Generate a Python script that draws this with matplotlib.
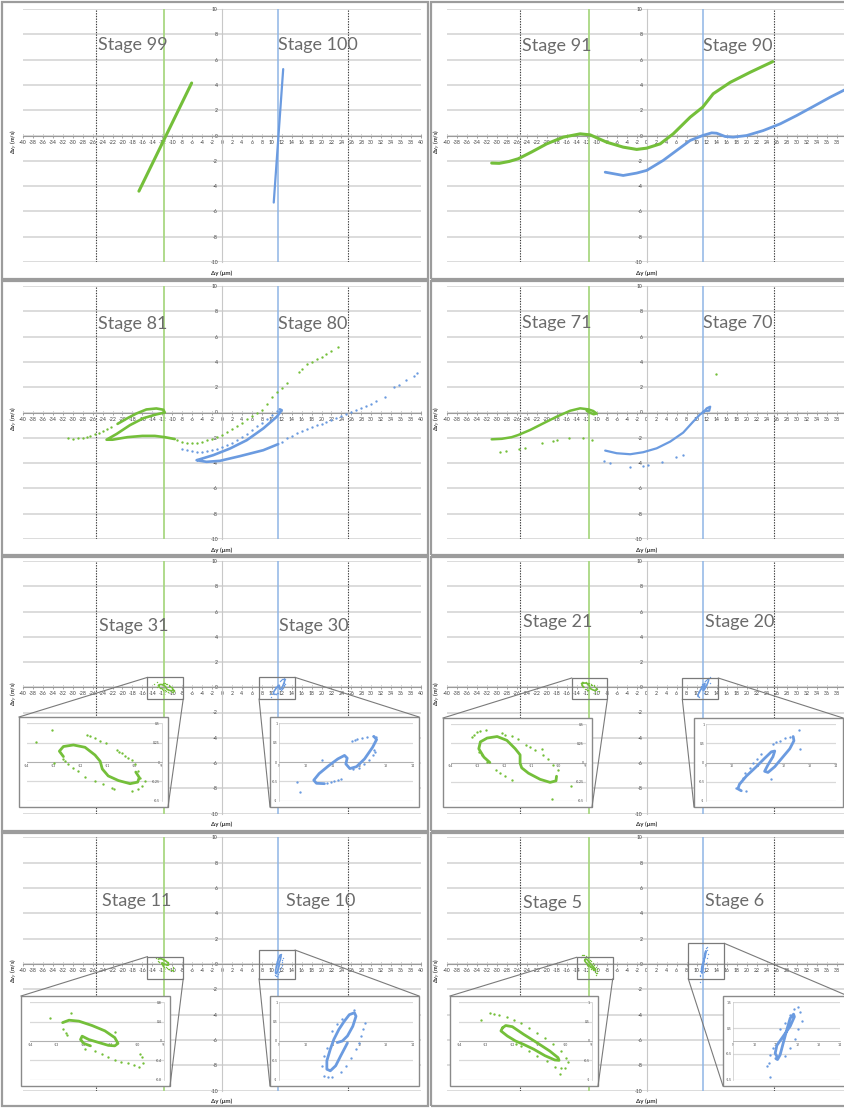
import matplotlib
matplotlib.use('Agg')
import matplotlib.pyplot as plt
from matplotlib.patches import Rectangle
from matplotlib.lines import Line2D

plt.rcParams['font.family'] = ['Lato', 'DejaVu Sans']

W, H = 844, 1108
GREEN = '#74bf3a'
BLUE = '#6b9be0'

# ---------------- data ----------------
x_ticks = list(range(-40, 41, 2))
y_ticks = list(range(-10, 11, 2))

# Stage 99 / 100
s99_line = [(-16.7, -4.4), (-6.1, 4.15)]
s100_line = [(10.4, -5.3), (12.3, 5.25)]

# Stage 91 / 90
s91_line = [(-31, -2.18), (-29.5, -2.2), (-27.5, -2.05), (-25.7, -1.84), (-23, -1.3), (-20, -0.66),
            (-16.7, -0.13), (-13.3, 0.13), (-11.3, 0.05), (-8, -0.53), (-4.7, -0.92), (-2, -1.1),
            (0, -1.0), (2.7, -0.66), (5.3, 0.13), (8.7, 1.45), (11.2, 2.24), (13.3, 3.3), (16.7, 4.2),
            (20.7, 5.0), (25.2, 5.84)]
s90_line = [(-8.3, -2.9), (-4.7, -3.16), (-2, -2.97), (0, -2.76), (3.3, -1.97), (6, -1.18), (8.7, -0.39),
            (11.2, 0), (13, 0.21), (14, 0.18), (15.7, -0.08), (17.3, -0.13), (20, 0), (23.3, 0.39),
            (26.7, 0.92), (30, 1.58), (33.3, 2.29), (36.7, 3.03), (39.3, 3.55), (41, 3.9)]

# Stage 81 / 80
s81_line = [(-21.0, -0.9), (-19, -0.45), (-17.2, -0.08), (-15.2, 0.24), (-13.2, 0.32), (-11.8, 0.22),
            (-11.5, 0.0), (-13.2, -0.15), (-15.8, -0.45), (-18.5, -1.0), (-21.2, -1.7), (-23.2, -2.15),
            (-22, -2.15), (-19, -1.95), (-16, -1.85), (-13.5, -1.85), (-11.5, -1.95), (-9.5, -2.1)]
s81_dots = [(-30.9, -2.05), (-30, -2.06), (-29, -2.05), (-28, -2.0), (-27.2, -1.9), (-26.5, -1.82),
            (-25.6, -1.72), (-24.8, -1.6), (-24, -1.48), (-23.2, -1.3), (-22.4, -1.15),
            (-9, -2.2), (-8, -2.3), (-7, -2.4), (-6, -2.45), (-5, -2.45), (-4, -2.35), (-3, -2.2),
            (-2, -2.1), (-1, -1.9), (0, -1.8), (1, -1.55), (2, -1.3), (3, -1.1), (4, -0.85), (5, -0.55),
            (6, -0.3), (7, 0.0), (8, 0.2), (9, 0.7), (10, 1.2), (11, 1.6), (12, 1.95), (13, 2.3),
            (15.5, 3.2), (16, 3.4), (17, 3.8), (18, 4.0), (19, 4.2), (20, 4.4), (21, 4.6), (22, 4.85),
            (23.4, 5.2)]
s80_line = [(11.3, -2.5), (8.3, -2.98), (3.6, -3.45), (-0.4, -3.82), (-3.1, -3.9), (-5.1, -3.77),
            (-4.4, -3.69), (-1.74, -3.37), (1.6, -2.85), (4.97, -2.19), (8.3, -1.26), (11.0, -0.34),
            (12.0, 0.18), (11.6, 0.25)]
s80_dots = [(-8.1, -2.85), (-7, -2.95), (-6, -3.05), (-5, -3.1), (-4, -3.1), (-3, -3.05), (-2, -2.95),
            (-1, -2.85), (0, -2.75), (1, -2.6), (2, -2.4), (3, -2.2), (4, -1.95), (5, -1.7), (6, -1.4),
            (7, -1.1), (8, -0.8), (9, -0.5), (10, -0.2), (11, 0.1),
            (12, -2.3), (13, -2.05), (14, -1.85), (15, -1.65), (16, -1.45), (17, -1.3), (18, -1.15),
            (19, -1.0), (20, -0.9), (21, -0.75), (22, -0.6), (23, -0.45), (24, -0.3), (25, -0.15),
            (26, 0.05), (27, 0.2), (28, 0.35), (29, 0.55), (30, 0.7), (31, 0.9), (32.7, 1.25),
            (34.5, 2.0), (35.5, 2.2), (37, 2.6), (38.5, 2.9), (39.2, 3.1)]

# Stage 71 / 70
s71_line = [(-31, -2.12), (-29, -2.08), (-27, -1.95), (-25.7, -1.78), (-23.3, -1.38), (-20.7, -0.86),
            (-18, -0.33), (-15.3, 0.14), (-13.3, 0.33), (-11.7, 0.25), (-10.7, 0.12), (-10, -0.08),
            (-10.6, -0.14), (-11.5, 0.0), (-12, 0.14)]
s71_dots = [(-29.3, -3.09), (-28.1, -3.04), (-25.5, -2.88), (-24.3, -2.83), (-21, -2.43), (-18.8, -2.25),
            (-18, -2.17), (-15.5, -2.04), (-12.7, -2.04), (-10.9, -2.17), (13.8, 3.01)]
s70_line = [(-8.3, -3.01), (-6, -3.22), (-3.3, -3.3), (-0.7, -3.14), (2, -2.83), (4.7, -2.3), (7.3, -1.59),
            (9.3, -0.72), (10.7, -0.14), (11.3, 0.0), (12, 0.33), (12.7, 0.46), (12.5, 0.14), (11.7, 0.12),
            (11.2, 0.05)]
s70_dots = [(-8.5, -3.83), (-7.3, -4.01), (-3.3, -4.28), (-0.7, -4.2), (0.3, -4.14), (3.1, -3.88),
            (5.8, -3.49), (7.2, -3.36)]

# Stage 31 / 30
s31_line = [(-12.64, 0.07), (-12.79, 0.14), (-12.64, 0.20), (-12.27, 0.22), (-11.84, 0.19), (-11.47, 0.09),
            (-11.28, 0.01), (-11.2, -0.09), (-10.98, -0.18), (-10.6, -0.24), (-10.17, -0.28), (-9.89, -0.26),
            (-9.83, -0.2), (-9.96, -0.13)]
s31_dots = [(-13.67, 0.26), (-13.07, 0.41), (-12.98, -0.01), (-12.64, 0.04), (-12.58, 0.01), (-12.46, -0.03),
            (-12.27, -0.08), (-12.09, -0.12), (-11.84, -0.19), (-11.47, -0.25), (-11.16, -0.29),
            (-10.85, -0.34), (-10.77, -0.35), (-11.78, 0.35), (-11.66, 0.34), (-11.47, 0.31), (-11.28, 0.27),
            (-11.07, 0.24), (-10.67, 0.15), (-10.58, 0.13), (-10.48, 0.11), (-10.36, 0.08), (-10.23, 0.05),
            (-10.11, 0.02), (-9.99, -0.03), (-9.86, -0.12), (-9.8, -0.21), (-9.62, -0.25), (-9.74, -0.31),
            (-9.86, -0.35), (-10.11, -0.38)]
s30_line = [(10.7, -0.56), (10.4, -0.55), (10.3, -0.47), (10.5, -0.3), (10.85, -0.1), (11.2, 0.08),
            (11.45, 0.17), (11.55, 0.1), (11.5, -0.05), (11.65, -0.17), (11.9, -0.12), (12.2, 0.08),
            (12.5, 0.38), (12.65, 0.58), (12.55, 0.66)]
s30_dots = [(11.72, 0.53), (11.85, 0.57), (11.91, 0.59), (12.1, 0.62), (12.3, 0.64), (12.5, 0.66),
            (12.62, 0.64), (12.56, 0.32), (12.6, 0.26), (12.5, 0.19), (12.37, 0.06), (12.17, -0.06),
            (11.98, -0.15), (11.78, -0.19), (11.32, -0.45), (11.2, -0.47), (11.06, -0.49), (10.93, -0.52),
            (10.8, -0.53), (10.6, 0.05), (9.69, -0.51), (9.8, -0.77)]

# Stage 21 / 20
s21_line = [(-12.55, 0.0), (-12.77, 0.07), (-12.96, 0.18), (-12.9, 0.27), (-12.65, 0.32), (-12.28, 0.34),
            (-11.92, 0.29), (-11.61, 0.18), (-11.43, 0.1), (-11.43, -0.01), (-11.37, -0.07), (-11.12, -0.14),
            (-10.69, -0.22), (-10.32, -0.26), (-10.1, -0.24), (-10.08, -0.18)]
s21_dots = [(-13.2, 0.33), (-13.14, 0.36), (-13.02, 0.4), (-12.9, 0.41), (-12.69, 0.42), (-12.1, 0.38),
            (-11.98, 0.36), (-11.73, 0.35), (-11.49, 0.31), (-11.2, 0.23), (-11.06, 0.2), (-10.87, 0.16),
            (-10.63, 0.18), (-10.57, 0.1), (-10.38, 0.05), (-10.2, -0.03), (-10.02, -0.1), (-9.53, -0.31),
            (-10.26, -0.48), (-12.96, 0.14), (-12.84, 0.1), (-12.65, 0.01), (-12.31, -0.1), (-12.16, -0.14),
            (-11.98, -0.18), (-11.73, -0.23)]
s20_line = [(10.36, -0.74), (10.23, -0.69), (10.29, -0.57), (10.55, -0.36), (10.94, -0.11), (11.26, 0.11),
            (11.52, 0.28), (11.65, 0.3), (11.58, 0.15), (11.39, -0.06), (11.26, -0.23), (11.39, -0.26),
            (11.65, -0.11), (11.97, 0.15), (12.23, 0.36), (12.39, 0.57), (12.36, 0.68)]
s20_dots = [(11.58, 0.49), (11.7, 0.53), (11.84, 0.57), (12.04, 0.64), (12.23, 0.68), (12.59, 0.85),
            (12.62, 0.36), (11.13, 0.23), (10.95, 0.1), (10.81, -0.02), (10.68, -0.15), (10.49, -0.28),
            (10.42, -0.4), (10.55, -0.74), (10.16, -0.66), (11.52, -0.43)]

# Stage 11 / 10
s11_line = [(-12.78, 0.38), (-12.54, 0.43), (-12.17, 0.41), (-11.68, 0.32), (-11.2, 0.21), (-10.83, 0.07),
            (-10.71, -0.05), (-10.83, -0.1), (-11.07, -0.09), (-11.44, -0.03), (-11.8, 0.03), (-12.05, 0.1),
            (-12.11, 0.03), (-11.99, -0.05), (-11.74, -0.1)]
s11_dots = [(-13.27, 0.48), (-12.48, 0.58), (-12.78, 0.24), (-12.66, 0.17), (-12.6, 0.12), (-10.83, 0.18),
            (-11.93, -0.16), (-11.56, -0.21), (-11.32, -0.27), (-11.07, -0.34), (-10.83, -0.39),
            (-10.59, -0.43), (-10.34, -0.46), (-10.1, -0.5), (-9.91, -0.53), (-9.79, -0.46), (-9.83, -0.34),
            (-9.88, -0.27)]
s10_line = [(11.18, -0.04), (11.37, 0.0), (11.56, 0.13), (11.76, 0.38), (11.88, 0.64), (11.82, 0.73),
            (11.63, 0.68), (11.44, 0.51), (11.24, 0.3), (11.05, 0.04), (10.92, -0.21), (10.79, -0.51),
            (10.79, -0.73), (10.92, -0.77), (11.12, -0.64), (11.31, -0.38), (11.5, -0.13), (11.56, -0.05)]
s10_dots = [(11.82, 0.81), (12.21, 0.47), (12.14, 0.3), (12.08, 0.13), (12.01, -0.04), (11.88, -0.21),
            (11.69, -0.43), (11.5, -0.64), (11.31, -0.81), (10.99, -0.94), (10.85, -0.92), (10.67, -0.9),
            (10.6, -0.64), (10.67, -0.38), (10.79, -0.17), (10.99, 0.26), (11.18, 0.43), (11.37, 0.56)]

# Stage 5 / 6
s5_line = [(-12.36, 0.34), (-12.24, 0.4), (-11.99, 0.37), (-11.56, 0.17), (-11.07, -0.04), (-10.58, -0.26),
           (-10.27, -0.43), (-10.23, -0.5), (-10.39, -0.49), (-10.76, -0.38), (-11.19, -0.21), (-11.56, -0.09),
           (-11.87, 0.0), (-12.18, 0.13), (-12.42, 0.26), (-12.36, 0.34)]
s5_dots = [(-12.85, 0.73), (-12.67, 0.71), (-12.49, 0.68), (-12.18, 0.62), (-11.93, 0.54), (-11.68, 0.47),
           (-11.38, 0.34), (-11.07, 0.21), (-10.76, 0.09), (-10.45, -0.09), (-10.15, -0.26), (-9.96, -0.43),
           (-9.9, -0.54), (-10.02, -0.7), (-10.15, -0.71), (-10.21, -0.85), (-11.87, -0.09), (-11.68, -0.13),
           (-11.38, -0.26), (-11.07, -0.38), (-10.7, -0.51), (-10.39, -0.66), (-13.16, 0.54)]
s6_line = [(11.05, -0.6), (10.97, -0.48), (11.05, -0.17), (11.36, 0.2), (11.67, 0.57), (11.87, 0.94),
           (11.83, 1.04), (11.67, 0.88), (11.52, 0.45), (11.36, -0.04), (11.2, -0.54), (11.08, -0.72),
           (11.0, -0.68)]
s6_dots = [(11.83, 1.25), (12.06, 1.31), (12.14, 1.13), (12.21, 0.76), (12.06, 0.45), (11.9, 0.08),
           (11.67, -0.29), (11.44, -0.6), (10.89, -0.29), (10.74, -0.54), (10.66, -0.85), (10.61, -0.97),
           (10.71, -1.4), (11.2, 0.45), (11.44, 0.7), (11.67, 1.01)]

# ---------------- layout ----------------
fig = plt.figure(figsize=(W / 100, H / 100), dpi=100)
fig.patch.set_facecolor('white')

COLS = [(23, 421), (446.7, 846.7)]
ROWS = [(9, 262), (286, 539), (561, 813.5), (837.3, 1090.7)]
BORDER_COLS = [(2, 428.5), (431, 900)]
BORDER_ROWS = [(2, 278.5), (280.5, 554.5), (556.5, 830.5), (832.5, 1106)]


def fx(px):
    return px / W


def fy(py):
    return 1 - py / H


def xy(pairs):
    return [p[0] for p in pairs], [p[1] for p in pairs]


def make_panel(r, c):
    x0, x1 = COLS[c]
    y0, y1 = ROWS[r]
    ax = fig.add_axes([fx(x0), fy(y1), (x1 - x0) / W, (y1 - y0) / H], zorder=0)
    ax.set_xlim(-40, 40)
    ax.set_ylim(-10, 10)
    ax.patch.set_alpha(0)
    ax.spines['left'].set_position(('data', 0))
    ax.spines['bottom'].set_position(('data', 0))
    ax.spines['top'].set_visible(False)
    ax.spines['right'].set_visible(False)
    ax.spines['left'].set_color('#c8c8c8')
    ax.spines['left'].set_linewidth(0.8)
    ax.spines['bottom'].set_color('#9a9a9a')
    ax.spines['bottom'].set_linewidth(0.8)
    ax.set_xticks(x_ticks)
    ax.set_yticks(y_ticks)
    ax.set_xticklabels([str(t) for t in x_ticks])
    ax.set_yticklabels([str(t) for t in y_ticks])
    ax.tick_params(axis='x', direction='inout', length=3.5, width=0.5, color='#808080',
                   labelsize=3.7, pad=1.2, labelcolor='#404040')
    ax.tick_params(axis='y', length=0, labelsize=3.7, pad=3, labelcolor='#404040')
    ax.yaxis.grid(True, color='#d9d9d9', lw=1.3)
    ax.set_axisbelow(True)
    ax.axvline(-25.4, color='#3a3a3a', ls=(0, (1.2, 1.2)), lw=0.8, zorder=1)
    ax.axvline(25.4, color='#3a3a3a', ls=(0, (1.2, 1.2)), lw=0.8, zorder=1)
    ax.axvline(-11.6, color='#a9d882', lw=1.3, zorder=1)
    ax.axvline(11.3, color='#8fb5e6', lw=1.1, zorder=1)
    ax.text(-41.8, -0.5, 'Δv$_y$ (m/s)', rotation=90, ha='center', va='center', fontsize=4.0,
            fontweight='bold', color='#333333', clip_on=False)
    ax.text(0, -10.85, 'Δy (μm)', ha='center', va='center', fontsize=4.4, fontweight='bold',
            color='#333333', clip_on=False)
    bx0, bx1 = BORDER_COLS[c]
    by0, by1 = BORDER_ROWS[r]
    fig.add_artist(Rectangle((fx(bx0), fy(by1)), (bx1 - bx0) / W, (by1 - by0) / H,
                             transform=fig.transFigure, fill=False, edgecolor='#9c9c9c', lw=1.6, zorder=1))
    return ax


def stage_text(ax, x, y, s):
    ax.text(x, y, s, ha='left', va='center', fontsize=13, color='#6b6b6b', zorder=5)


def draw_line(ax, pairs, color, lw):
    xs, ys = xy(pairs)
    ax.plot(xs, ys, color=color, lw=lw, solid_capstyle='round', solid_joinstyle='round', zorder=3)


def draw_dots(ax, pairs, color, ms):
    xs, ys = xy(pairs)
    ax.plot(xs, ys, 'o', color=color, ms=ms, mew=0, zorder=3)


def inset(box, margins, xlim, ylim, yticks, ycross, color, line, dots):
    x0, y0, x1, y1 = box
    fig.add_artist(Rectangle((fx(x0), fy(y1)), (x1 - x0) / W, (y1 - y0) / H, transform=fig.transFigure,
                             facecolor='white', edgecolor='#8a8a8a', lw=1.0, zorder=2.5))
    l, rr, t, b = margins
    ax = fig.add_axes([fx(x0 + l), fy(y1 - b), (x1 - x0 - l - rr) / W, (y1 - y0 - t - b) / H], zorder=3)
    ax.patch.set_alpha(0)
    ax.set_xlim(*xlim)
    ax.set_ylim(*ylim)
    for s in ('top', 'right'):
        ax.spines[s].set_visible(False)
    ax.spines['bottom'].set_position(('data', 0))
    ax.spines['left'].set_position(('data', ycross))
    ax.spines['bottom'].set_color('#a0a0a0')
    ax.spines['left'].set_color('#c8c8c8')
    ax.spines['bottom'].set_linewidth(0.5)
    ax.spines['left'].set_linewidth(0.5)
    xt = list(range(int(xlim[0]), int(xlim[1]) + 1))
    ax.set_xticks(xt)
    ax.set_xticklabels([str(v) for v in xt])
    ax.set_yticks(yticks)
    ax.set_yticklabels([f'{v:g}' for v in yticks])
    ax.tick_params(axis='both', length=0, labelsize=2.4, pad=1.2, labelcolor='#404040')
    ax.yaxis.grid(True, color='#d9d9d9', lw=0.9)
    ax.set_axisbelow(True)
    xs, ys = xy(line)
    ax.plot(xs, ys, color=color, lw=2.0, solid_capstyle='round', solid_joinstyle='round', zorder=3)
    xs, ys = xy(dots)
    ax.plot(xs, ys, 'o', color=color, ms=1.7, mew=0, zorder=3)
    return ax


def zoom_box(ax, bx, by, box, corners):
    """bx, by: data range of zoom rectangle on main axes; corners: pairs of (main corner, inset corner)"""
    ax.add_patch(Rectangle((bx[0], by[0]), bx[1] - bx[0], by[1] - by[0], fill=False,
                           edgecolor='#7a7a7a', lw=0.9, zorder=4))
    x0, y0, x1, y1 = box
    for (mc, ic) in corners:
        mx = bx[0] if mc[0] == 'l' else bx[1]
        my = by[1] if mc[1] == 't' else by[0]
        px, py = fig.transFigure.inverted().transform(ax.transData.transform((mx, my)))
        ix = x0 if ic[0] == 'l' else x1
        iy = y0 if ic[1] == 't' else y1
        fig.add_artist(Line2D([px, fx(ix)], [py, fy(iy)], transform=fig.transFigure,
                              color='#7a7a7a', lw=0.8, zorder=4))


MS_MAIN = 1.7
# ---- Row 1 ----
ax = make_panel(0, 0)
draw_line(ax, s99_line, GREEN, 2.2)
draw_line(ax, s100_line, BLUE, 1.6)
stage_text(ax, -24.9, 7.15, 'Stage 99')
stage_text(ax, 11.3, 7.15, 'Stage 100')

ax = make_panel(0, 1)
draw_line(ax, s91_line, GREEN, 2.2)
draw_line(ax, s90_line, BLUE, 2.0)
stage_text(ax, -25.0, 7.1, 'Stage 91')
stage_text(ax, 11.2, 7.1, 'Stage 90')

# ---- Row 2 ----
ax = make_panel(1, 0)
draw_line(ax, s81_line, GREEN, 1.9)
draw_dots(ax, s81_dots, GREEN, MS_MAIN)
draw_line(ax, s80_line, BLUE, 1.9)
draw_dots(ax, s80_dots, BLUE, MS_MAIN)
stage_text(ax, -24.9, 7.0, 'Stage 81')
stage_text(ax, 11.3, 7.0, 'Stage 80')

ax = make_panel(1, 1)
draw_line(ax, s71_line, GREEN, 1.8)
draw_dots(ax, s71_dots, GREEN, MS_MAIN)
draw_line(ax, s70_line, BLUE, 1.6)
draw_dots(ax, s70_dots, BLUE, MS_MAIN)
stage_text(ax, -25.0, 7.04, 'Stage 71')
stage_text(ax, 11.2, 7.04, 'Stage 70')

# ---- Row 3 ----
ax = make_panel(2, 0)
draw_line(ax, s31_line, GREEN, 1.2)
draw_dots(ax, s31_dots, GREEN, 1.0)
draw_line(ax, s30_line, BLUE, 1.2)
draw_dots(ax, s30_dots, BLUE, 1.0)
stage_text(ax, -24.7, 4.85, 'Stage 31')
stage_text(ax, 11.5, 4.85, 'Stage 30')
b = (19, 717, 168, 807)
inset(b, (7.7, 6.3, 6.3, 6.3), (-14, -9), (-0.5, 0.5), [-0.5, -0.25, 0, 0.25, 0.5], -9, GREEN, s31_line, s31_dots)
zoom_box(ax, (-15, -7.8), (-0.94, 0.78), b, [('lt', 'lt'), ('rb', 'rb')])
b = (270, 717, 419, 807)
inset(b, (9, 6.3, 6.3, 6.3), (9, 14), (-1, 1), [-1, -0.5, 0, 0.5, 1], 9, BLUE, s30_line, s30_dots)
zoom_box(ax, (7.45, 14.7), (-0.94, 0.78), b, [('rt', 'rt'), ('lb', 'lb')])

ax = make_panel(2, 1)
draw_line(ax, s21_line, GREEN, 1.2)
draw_dots(ax, s21_dots, GREEN, 1.0)
draw_line(ax, s20_line, BLUE, 1.2)
draw_dots(ax, s20_dots, BLUE, 1.0)
stage_text(ax, -24.8, 5.14, 'Stage 21')
stage_text(ax, 11.7, 5.14, 'Stage 20')
b = (443, 718, 592, 807)
inset(b, (7.7, 6.3, 6.3, 6.3), (-14, -9), (-0.5, 0.5), [-0.5, -0.25, 0, 0.25, 0.5], -9, GREEN, s21_line, s21_dots)
zoom_box(ax, (-15, -7.87), (-0.97, 0.73), b, [('lt', 'lt'), ('rb', 'rb')])
b = (694, 718, 843, 807)
inset(b, (12, 7.3, 6.3, 6.3), (9, 14), (-1, 1), [-1, -0.5, 0, 0.5, 1], 9, BLUE, s20_line, s20_dots)
zoom_box(ax, (7.13, 14.33), (-0.97, 0.73), b, [('rt', 'rt'), ('lb', 'lb')])

# ---- Row 4 ----
ax = make_panel(3, 0)
draw_line(ax, s11_line, GREEN, 1.2)
draw_dots(ax, s11_dots, GREEN, 1.0)
draw_line(ax, s10_line, BLUE, 1.2)
draw_dots(ax, s10_dots, BLUE, 1.0)
stage_text(ax, -24.2, 4.97, 'Stage 11')
stage_text(ax, 12.9, 4.97, 'Stage 10')
b = (21, 996, 170, 1086)
inset(b, (9, 6.3, 6.3, 6.3), (-14, -9), (-0.8, 0.8), [-0.8, -0.4, 0, 0.4, 0.8], -9, GREEN, s11_line, s11_dots)
zoom_box(ax, (-15, -7.8), (-1.18, 0.58), b, [('lt', 'lt'), ('rb', 'rb')])
b = (270, 996, 419, 1086)
inset(b, (9, 6.3, 6.3, 6.3), (9, 14), (-1, 1), [-1, -0.5, 0, 0.5, 1], 9, BLUE, s10_line, s10_dots)
zoom_box(ax, (7.45, 14.7), (-1.18, 1.1), b, [('rt', 'rt'), ('lb', 'lb')])

ax = make_panel(3, 1)
draw_line(ax, s5_line, GREEN, 1.2)
draw_dots(ax, s5_dots, GREEN, 1.0)
draw_line(ax, s6_line, BLUE, 1.2)
draw_dots(ax, s6_dots, BLUE, 1.0)
stage_text(ax, -24.8, 4.79, 'Stage 5')
stage_text(ax, 11.7, 4.97, 'Stage 6')
b = (450, 996, 598, 1086)
inset(b, (9, 6.3, 6.3, 6.3), (-14, -9), (-1, 1), [-1, -0.5, 0, 0.5, 1], -9, GREEN, s5_line, s5_dots)
zoom_box(ax, (-14, -6.8), (-1.18, 0.53), b, [('lt', 'lt'), ('rb', 'rb')])
b = (723, 996, 848, 1086)
inset(b, (10, 8, 6.3, 6.3), (9, 14), (-1.5, 1.5), [-1.5, -0.5, 0.5, 1.5], 9, BLUE, s6_line, s6_dots)
zoom_box(ax, (8.33, 15.53), (-1.18, 1.63), b, [('rt', 'rt'), ('lb', 'lb')])

fig.savefig('out.png', dpi=100, facecolor='white')
